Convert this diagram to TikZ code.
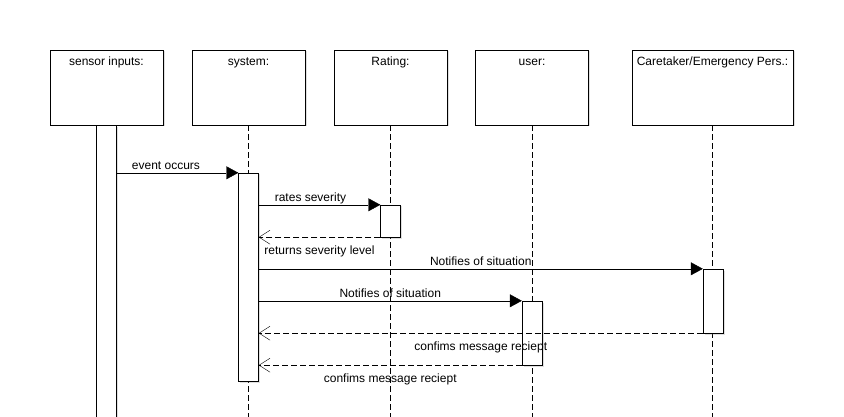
\documentclass[tikz,border=0pt]{standalone}
\usepackage{fontspec}
\setmainfont{Liberation Sans}
\usetikzlibrary{arrows.meta,shadows}

\begin{document}
\begin{tikzpicture}[x=1pt,y=-1pt,
		head/.style={draw,fill=white,inner sep=0pt,minimum width=113pt,
			text height=16pt,text depth=59pt,font=\fontsize{12}{14}\selectfont,
			drop shadow={shadow xshift=1.5pt,shadow yshift=-1.5pt,opacity=0.25}},
		act/.style={draw,fill=white,inner sep=0pt,minimum width=20pt,
			drop shadow={shadow xshift=1.5pt,shadow yshift=-1.5pt,opacity=0.25}},
		life/.style={dash pattern=on 6pt off 3pt},
		call/.style={-{Triangle[length=12pt,width=13pt]}},
		reply/.style={dash pattern=on 6pt off 3pt,-{Straight Barb[length=11pt,width=14pt]}},
		msg/.style={anchor=base,font=\fontsize{12}{14}\selectfont}]
		\useasboundingbox (0,0) rectangle (844,417);
		
		% heads
		\node[head] (sensor) at (106.5,87.5) {sensor inputs:};
		\node[head] (system) at (248.5,87.5) {system:};
		\node[head] (rating) at (390.5,87.5) {Rating:};
		\node[head] (user) at (532,87.5) {user:};
		\node[head,minimum width=161pt] (care) at (712.5,87.5) {Caretaker/Emergency Pers.:};
		
		% lifelines
		\draw[life] (system.south) -- (system.south |- 0,417);
		\draw[life] (rating.south) -- (rating.south |- 0,417);
		\draw[life] (user.south) -- (user.south |- 0,417);
		\draw[life] (care.south) -- (care.south |- 0,417);
		
		% activation bars
		\begin{scope}
			\clip (0,0) rectangle (844,417);
			\node[act,minimum height=300pt,anchor=north] (sensact) at (sensor.south) {};
		\end{scope}
		\node[act,minimum height=208pt] (sysact) at (248.5,277) {};
		\node[act,minimum height=32pt] (rateact) at (390.5,221) {};
		\node[act,minimum height=64pt] (careact) at (713,301) {};
		\node[act,minimum height=64pt] (useract) at (532,333) {};
		
		% messages
		\draw[call] (sensact.east |- sysact.north west) -- (sysact.north west)
			node[msg,pos=0.405,yshift=3pt] {event occurs};
		\draw[call] (sysact.east |- rateact.north west) -- (rateact.north west)
			node[msg,pos=0.426,yshift=3pt] {rates severity};
		\draw[reply] (rateact.south west) -- (sysact.east |- rateact.south west)
			node[msg,pos=0.5,yshift=-17pt] {returns severity level};
		\draw[call] (sysact.east |- careact.north west) -- (careact.north west)
			node[msg,pos=0.5,yshift=3pt] {Notifies of situation};
		\draw[call] (sysact.east |- useract.north west) -- (useract.north west)
			node[msg,pos=0.5,yshift=3pt] {Notifies of situation};
		\draw[reply] (careact.south west) -- (sysact.east |- careact.south west)
			node[msg,pos=0.5,yshift=-17pt] {confims message reciept};
		\draw[reply] (useract.south west) -- (sysact.east |- useract.south west)
			node[msg,pos=0.5,yshift=-17pt] {confims message reciept};
	\end{tikzpicture}
\end{document}
